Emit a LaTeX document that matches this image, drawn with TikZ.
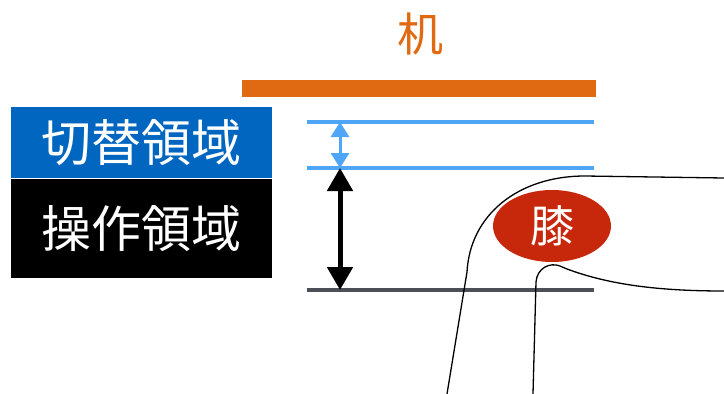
\documentclass[tikz,border=0pt]{standalone}
\usepackage{fontspec}
\newfontfamily\jp{Noto Sans CJK JP}
\usetikzlibrary{arrows.meta,shapes.geometric}
\definecolor{tsukue}{HTML}{DF6A12}
\definecolor{kirikae}{HTML}{0066C0}
\definecolor{sakai}{HTML}{4FA6F7}
\definecolor{yuka}{HTML}{4B5058}
\definecolor{hiza}{HTML}{C7270A}
\tikzset{
  ryoiki/.style={minimum width=261pt,inner sep=0pt,text=white,font=\jp\fontsize{50}{50}\selectfont},
  sakaisen/.style={line width=3.5pt,sakai},
}
\begin{document}
\begin{tikzpicture}[x=1pt,y=-1pt]
\useasboundingbox (0,0) rectangle (724,394);
% desk
\node[text=tsukue,font=\jp\fontsize{46}{46}\selectfont] (tsukue) at (420,34) {机};
\fill[tsukue] (242,80) rectangle (596,97);
% area labels
\node[ryoiki,fill=kirikae,minimum height=71pt] (kiri) at (141.5,142.5) {切替領域};
\node[ryoiki,fill=black,minimum height=99pt] (sousa) at (141.5,228.5) {操作領域};
% boundary lines
\draw[sakaisen] (307,122) -- (594,122);
\draw[sakaisen] (307,168) -- (594,168);
\draw[line width=4pt,yuka] (307,290) -- (594,290);
\coordinate (a) at (340,122);
\coordinate (b) at (340,168);
\coordinate (c) at (340,290);
\draw[sakai,line width=3pt,{Triangle[length=15pt,width=18pt]}-{Triangle[length=15pt,width=18pt]}] (a) -- (b);
\draw[black,line width=5pt,{Triangle[length=23pt,width=25pt]}-{Triangle[length=23pt,width=25pt]}] (b) -- (c);
% leg
\draw[line width=1.3pt] (447,394) -- (467,272) .. controls (470,215) and (518,176) .. (585,176) -- (724,178);
\draw[line width=1.3pt] (533,394) -- (536,282) .. controls (537,268) and (550,262) .. (560,266) -- (567,269) .. controls (610,285) and (660,291) .. (724,291);
\node[ellipse,fill=hiza,minimum width=118pt,minimum height=72pt,inner sep=0pt,text=white,font=\jp\fontsize{44}{44}\selectfont] (hiza) at (552,226) {膝};
\end{tikzpicture}
\end{document}
